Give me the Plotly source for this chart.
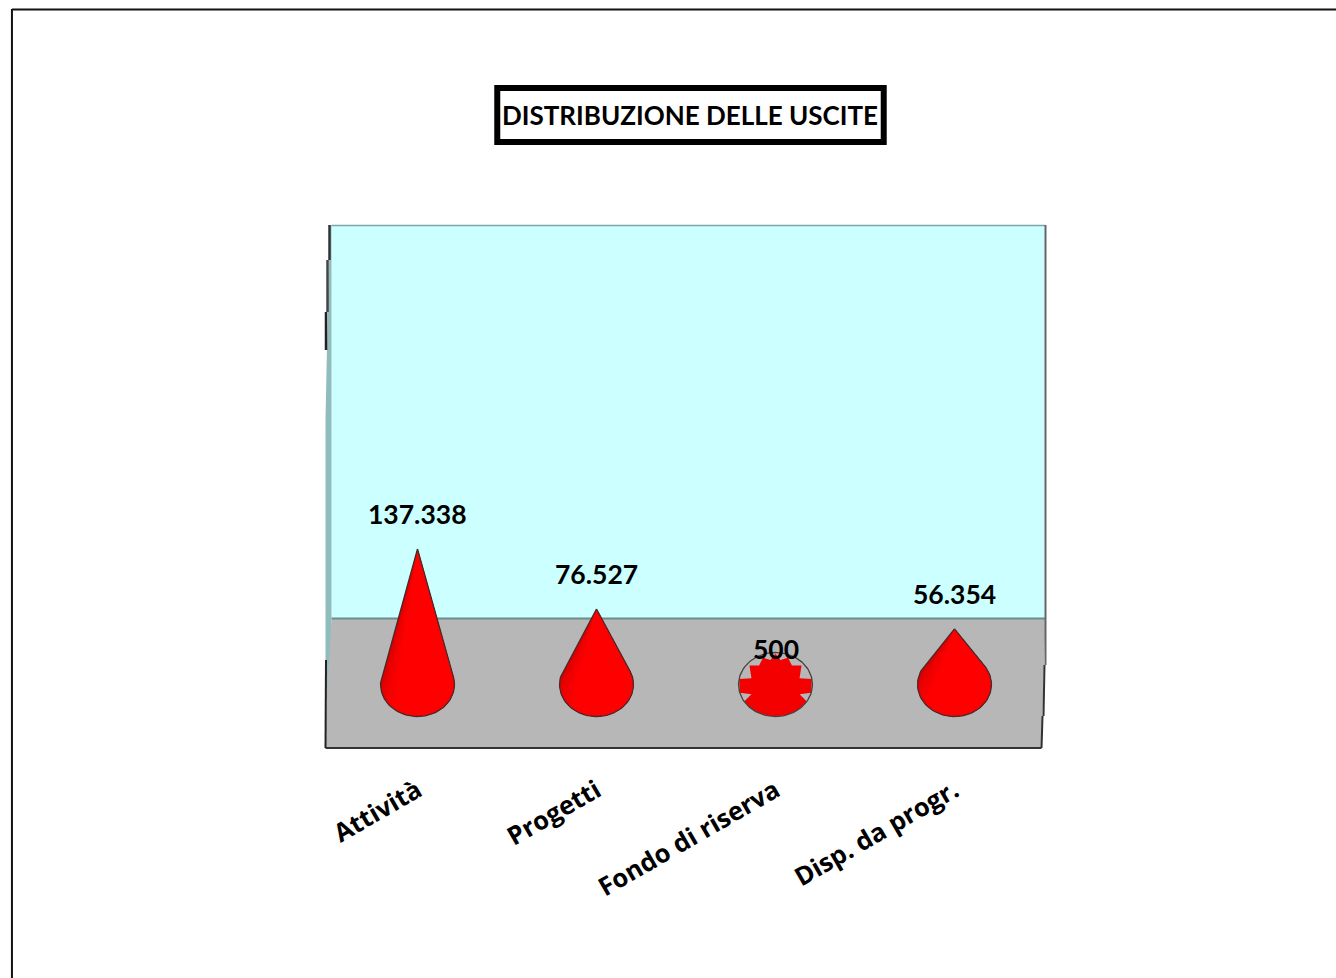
import numpy as np
import plotly.graph_objects as go

categories = ["Attività", "Progetti", "Fondo di riserva", "Disp. da progr."]
values = [137338, 76527, 500, 56354]
title_text = "DISTRIBUZIONE DELLE USCITE"

W, H = 1336, 978
L, R, T, B = 327.5, 1044.5, 225, 748
PX_PER_UNIT = 60 / 60811
Y0_PX = 684.5
y_min = (Y0_PX - B) / PX_PER_UNIT
y_max = (Y0_PX - T) / PX_PER_UNIT
RX = 37 / ((R - L) / 4)
RY = 32 / PX_PER_UNIT
FONT = "Lato"
# outline of the jagged rendering of a nearly flat cone (angle in degrees, radius share)
JAG_ANGLES = [-32, -25, -15, 10, 17, 40, 53, 68, 80, 90]
JAG_RADII = [1.0, 0.72, 1.0, 1.0, 0.68, 0.92, 0.74, 0.90, 0.78, 0.96]


def px(x, y):
    return (x - L) / (R - L), (B - y) / (B - T)


def path(points):
    parts = []
    for i, (x, y) in enumerate(points):
        a, b = px(x, y)
        parts.append(("M" if i == 0 else "L") + f"{a:.5f},{b:.5f}")
    return " ".join(parts) + " Z"


def poly(points, fill, line=None, w=0):
    return dict(type="path", xref="paper", yref="paper", path=path(points), fillcolor=fill,
                line=dict(color=line or fill, width=w), layer="below")


def seg(x0, y0, x1, y1, color, w):
    a, b = px(x0, y0)
    c, d = px(x1, y1)
    return dict(type="line", xref="paper", yref="paper", x0=a, y0=b, x1=c, y1=d,
                line=dict(color=color, width=w), layer="below")


def shade(t):
    g = int(round(205 + 50 * min(t / 0.30, 1)))
    return f"rgb({g},0,0)"


fig = go.Figure()
for i, v in enumerate(values):
    h = v / RY
    if h > 1:
        a = np.arcsin(1 / h)
        arc = np.linspace(np.pi - a, 2 * np.pi + a, 80)
        ax = np.cos(arc)
        ay = np.sin(arc)
        # overlapping layers, dark on the left fading to pure red
        for t in np.linspace(0, 0.32, 9):
            k = int(t * (len(arc) - 1))
            xs = np.r_[0, ax[k:], 0] * RX + i
            ys = np.r_[h, ay[k:], h] * RY
            fig.add_trace(go.Scatter(x=xs, y=ys, mode="lines", fill="toself", line=dict(width=0),
                                     fillcolor=shade(t), hoverinfo="skip", showlegend=False))
        xs = np.r_[0, ax, 0] * RX + i
        ys = np.r_[h, ay, h] * RY
        fig.add_trace(go.Scatter(x=xs, y=ys, mode="lines", line=dict(color="#4a2a2a", width=1.3),
                                 hoverinfo="skip", showlegend=False))
    else:
        # almost flat cone: jagged red disc inside the circular base outline
        right = np.array(JAG_ANGLES, dtype=float)
        left = 180 - right[::-1]
        low = np.linspace(212, 328, 30)
        ang = np.radians(np.r_[right, left, low])
        rad = np.r_[JAG_RADII, JAG_RADII[::-1], np.ones_like(low)]
        fig.add_trace(go.Scatter(x=i + RX * rad * np.cos(ang), y=RY * rad * np.sin(ang), mode="lines",
                                 fill="toself", fillcolor="#f40000", line=dict(width=0),
                                 hoverinfo="skip", showlegend=False))
        th = np.linspace(0, 2 * np.pi, 121)
        fig.add_trace(go.Scatter(x=i + RX * np.cos(th), y=RY * np.sin(th), mode="lines",
                                 line=dict(color="#4a4040", width=1.3),
                                 hoverinfo="skip", showlegend=False))

annotations = [
    dict(x=i, y=v, xref="x", yref="y", yshift=35, text=f"<b>{f'{v:,}'.replace(',', '.')}</b>", showarrow=False,
         font=dict(family=FONT, size=26.5, color="black"), yanchor="middle", xanchor="center")
    for i, v in enumerate(values)
]
tx, ty = px(690, 115)
annotations.append(dict(x=tx, y=ty, xref="paper", yref="paper", text=f"<b>{title_text}</b>", showarrow=False,
                        font=dict(family=FONT, size=26, color="black"), xanchor="center", yanchor="middle"))

shapes = [
    # outer border (top and left only)
    seg(11, 9.5, 1340, 9.5, "#111111", 2),
    seg(11, 9, 11, 982, "#111111", 2),
    # title box
    poly([(497, 88), (884, 88), (884, 142), (497, 142)], "white", "black", 6),
    # back wall
    poly([(331, 225), (1046, 225), (1046, 618), (331, 618)], "#CCFFFF"),
    seg(331, 225.5, 1046, 225.5, "#7fa5a5", 1.5),
    # side wall
    poly([(329, 225), (331, 225), (331, 700), (325, 700), (325, 420)], "#8fbcbc"),
    # floor
    poly([(331, 619), (1046, 619), (1042, 748), (325, 748), (326, 700)], "#B7B7B7"),
    seg(331, 618.5, 1046, 618.5, "#6f8c8c", 2),
    seg(325, 748, 1042, 748, "#333333", 2),
    seg(1042, 748, 1043, 716, "#333333", 2),
    seg(1044, 716, 1045, 665, "#333333", 2),
    seg(1046, 665, 1046, 225, "#666666", 2),
    seg(329, 225, 329, 260, "#333333", 2.5),
    seg(327, 260, 327, 312, "#444444", 2.5),
    seg(325.5, 312, 325.5, 350, "#222222", 2.5),
    seg(325.5, 660, 325, 748, "#222222", 2),
]

fig.update_layout(
    width=W, height=H, autosize=False,
    margin=dict(l=L, r=W - R, t=T, b=H - B, pad=0),
    paper_bgcolor="white", plot_bgcolor="rgba(0,0,0,0)",
    showlegend=False, shapes=shapes, annotations=annotations,
    xaxis=dict(range=[-0.5, 3.5], tickmode="array", tickvals=list(range(len(categories))), ticktext=categories,
               tickangle=-30, showgrid=False, zeroline=False, showline=False, ticks="",
               tickfont=dict(family="Open Sans", size=25.5, color="black", weight="bold"), ticklabelstandoff=22),
    yaxis=dict(range=[y_min, y_max], visible=False),
)
fig.write_html("out.html", config={"displayModeBar": False},
               post_script="document.body.style.margin='0';document.documentElement.style.overflow='hidden';")
